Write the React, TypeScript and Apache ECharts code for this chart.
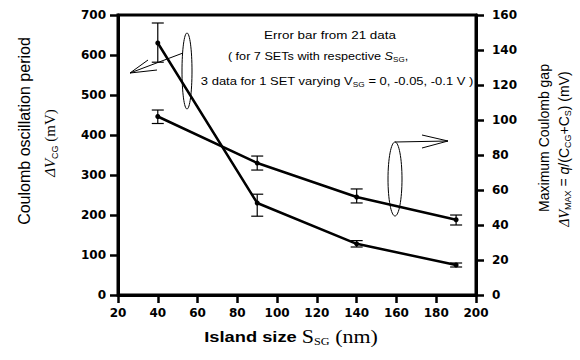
import React, { useEffect, useRef } from "react";
import * as echarts from "echarts";

const sizes = [40, 90, 140, 190];
const periodMean = [630, 230, 128, 75];
const periodLow = [582, 197, 120, 70];
const periodHigh = [680, 252, 136, 80];
const gapMean = [102, 75.4, 56, 43];
const gapLow = [98, 71.4, 52.6, 40];
const gapHigh = [105.7, 79.4, 60.6, 45.7];

const xTicks = { min: 20, max: 200, interval: 20 };
const yLeftTicks = { min: 0, max: 700, interval: 100 };
const yRightTicks = { min: 0, max: 160, interval: 20 };

const SANS = "Liberation Sans, Arial, sans-serif";
const SERIF = "Liberation Serif, Times New Roman, serif";
const TICKFONT = "DejaVu Sans, sans-serif";

function errorRender(params: any, api: any) {
  const x = api.value(0);
  const lo = api.value(1);
  const hi = api.value(2);
  const p1 = api.coord([x, lo]);
  const p2 = api.coord([x, hi]);
  const w = 6;
  const st = { stroke: "#000", lineWidth: 1.2 };
  return {
    type: "group",
    children: [
      { type: "line", shape: { x1: p1[0], y1: p1[1], x2: p2[0], y2: p2[1] }, style: st },
      { type: "line", shape: { x1: p1[0] - w, y1: p1[1], x2: p1[0] + w, y2: p1[1] }, style: st },
      { type: "line", shape: { x1: p2[0] - w, y1: p2[1], x2: p2[0] + w, y2: p2[1] }, style: st },
    ],
  };
}

export default function App() {
  const ref = useRef<HTMLDivElement>(null);
  useEffect(() => {
    if (!ref.current) return;
    const chart = echarts.init(ref.current, null, { renderer: "svg" });
    const axisCommon = {
      axisLine: { show: true, lineStyle: { color: "#000", width: 3 } },
      axisTick: { show: true, length: 8, lineStyle: { color: "#000", width: 2.5 } },
      splitLine: { show: false },
      axisLabel: { color: "#000", fontFamily: TICKFONT, fontWeight: "bold", fontSize: 12 },
    };
    const lineStroke = { color: "#000", width: 2.5 };
    const thin = { stroke: "#000", lineWidth: 1, fill: "none" };
    const annT = { fontFamily: SANS, fontSize: 11, lineHeight: 14, fill: "#000" };
    const annS = { fontFamily: SANS, fontSize: 7, lineHeight: 6, verticalAlign: "bottom", fill: "#000" };
    const option: any = {
      animation: false,
      backgroundColor: "#fff",
      grid: {
        left: 118,
        right: 104,
        top: 15,
        bottom: 65,
        show: true,
        borderColor: "#000",
        borderWidth: 3,
        containLabel: false,
      },
      xAxis: {
        type: "value",
        ...xTicks,
        ...axisCommon,
        axisLabel: { ...axisCommon.axisLabel, margin: 12 },
      },
      yAxis: [
        {
          type: "value",
          ...yLeftTicks,
          ...axisCommon,
          axisLabel: { ...axisCommon.axisLabel, margin: 12 },
        },
        {
          type: "value",
          position: "right",
          ...yRightTicks,
          ...axisCommon,
          axisLabel: { ...axisCommon.axisLabel, margin: 16 },
        },
      ],
      series: [
        {
          type: "line",
          yAxisIndex: 0,
          data: sizes.map((s, i) => [s, periodMean[i]]),
          symbol: "circle",
          symbolSize: 5,
          itemStyle: { color: "#000" },
          lineStyle: lineStroke,
          z: 3,
        },
        {
          type: "line",
          yAxisIndex: 1,
          data: sizes.map((s, i) => [s, gapMean[i]]),
          symbol: "circle",
          symbolSize: 5,
          itemStyle: { color: "#000" },
          lineStyle: lineStroke,
          z: 3,
        },
        {
          type: "custom",
          yAxisIndex: 0,
          renderItem: errorRender,
          data: sizes.map((s, i) => [s, periodLow[i], periodHigh[i]]),
          z: 4,
        },
        {
          type: "custom",
          yAxisIndex: 1,
          renderItem: errorRender,
          data: sizes.map((s, i) => [s, gapLow[i], gapHigh[i]]),
          z: 4,
        },
      ],
      graphic: [
        // left ellipse + arrow
        { type: "ellipse", shape: { cx: 187, cy: 71, rx: 5, ry: 38 }, style: thin, z: 10 },
        { type: "line", shape: { x1: 183, y1: 53, x2: 130, y2: 73 }, style: thin, z: 10 },
        { type: "line", shape: { x1: 148, y1: 60, x2: 130, y2: 73 }, style: thin, z: 10 },
        { type: "line", shape: { x1: 157, y1: 70, x2: 130, y2: 73 }, style: thin, z: 10 },
        // right ellipse + arrow
        { type: "ellipse", shape: { cx: 395, cy: 179, rx: 7, ry: 37 }, style: thin, z: 10 },
        { type: "line", shape: { x1: 395, y1: 142, x2: 448, y2: 141 }, style: thin, z: 10 },
        { type: "line", shape: { x1: 422, y1: 135, x2: 448, y2: 141 }, style: thin, z: 10 },
        { type: "line", shape: { x1: 422, y1: 148, x2: 448, y2: 141 }, style: thin, z: 10 },
        // annotation text
        {
          type: "text",
          x: 330,
          y: 35,
          scaleX: 1.22,
          style: {
            text: "Error bar from 21 data",
            fontFamily: SANS,
            fontSize: 11,
            fill: "#000",
            align: "center",
            verticalAlign: "middle",
          },
          z: 10,
        },
        {
          type: "text",
          x: 318,
          y: 56,
          scaleX: 1.15,
          style: {
            text: "{t|( for 7 SETs with respective }{i|S}{s|SG}{t|,}",
            rich: {
              t: annT,
              i: { ...annT, fontStyle: "italic" },
              s: annS,
            },
            align: "center",
            verticalAlign: "middle",
          },
          z: 10,
        },
        {
          type: "text",
          x: 337,
          y: 81,
          scaleX: 1.18,
          style: {
            text: "{t|3 data for 1 SET varying V}{s|SG}{t| = 0, -0.05, -0.1 V )}",
            rich: { t: annT, s: annS },
            align: "center",
            verticalAlign: "middle",
          },
          z: 10,
        },
        // left axis title
        {
          type: "text",
          x: 24,
          y: 131,
          rotation: Math.PI / 2,
          style: {
            text: "Coulomb oscillation period",
            fontFamily: SANS,
            fontSize: 16,
            fill: "#000",
            align: "center",
            verticalAlign: "middle",
          },
        },
        {
          type: "text",
          x: 50,
          y: 143,
          rotation: Math.PI / 2,
          style: {
            text: "{d|ΔV}{s|CG}{t| (mV)}",
            rich: {
              d: { fontFamily: SERIF, fontStyle: "italic", fontSize: 15, lineHeight: 18, fill: "#000" },
              t: { fontFamily: SERIF, fontSize: 15, lineHeight: 18, fill: "#000" },
              s: { fontFamily: SANS, fontSize: 9, lineHeight: 8, verticalAlign: "bottom", fill: "#000" },
            },
            align: "center",
            verticalAlign: "middle",
          },
        },
        // right axis title
        {
          type: "text",
          x: 544,
          y: 138,
          rotation: Math.PI / 2,
          style: {
            text: "Maximum Coulomb gap",
            fontFamily: SANS,
            fontSize: 14,
            fill: "#000",
            align: "center",
            verticalAlign: "middle",
          },
        },
        {
          type: "text",
          x: 564,
          y: 149,
          rotation: Math.PI / 2,
          style: {
            text: "{d|ΔV}{s|MAX}{t| = }{q|q}{t|/(C}{s|CG}{t|+C}{s|S}{t|) (mV)}",
            rich: {
              d: { fontFamily: SERIF, fontStyle: "italic", fontSize: 14, lineHeight: 17, fill: "#000" },
              q: { fontFamily: SANS, fontStyle: "italic", fontSize: 14, lineHeight: 17, fill: "#000" },
              t: { fontFamily: SANS, fontSize: 14, lineHeight: 17, fill: "#000" },
              s: { fontFamily: SANS, fontSize: 9, lineHeight: 8, verticalAlign: "bottom", fill: "#000" },
            },
            align: "center",
            verticalAlign: "middle",
          },
        },
        // bottom axis title
        {
          type: "text",
          x: 291,
          y: 337,
          scaleX: 1.22,
          style: {
            text: "{b|Island size }{m|S}{s|SG}{m| (nm)}",
            rich: {
              b: { fontFamily: SANS, fontWeight: "bold", fontSize: 15, lineHeight: 18, fill: "#000" },
              m: { fontFamily: SERIF, fontSize: 18, lineHeight: 18, fill: "#000" },
              s: { fontFamily: SERIF, fontSize: 10, lineHeight: 8, verticalAlign: "bottom", fill: "#000" },
            },
            align: "center",
            verticalAlign: "middle",
          },
        },
      ],
    };
    chart.setOption(option);
    return () => chart.dispose();
  }, []);
  return (
    <div
      ref={ref}
      style={{ position: "fixed", left: 0, top: 0, width: 580, height: 360, background: "#fff" }}
    />
  );
}
